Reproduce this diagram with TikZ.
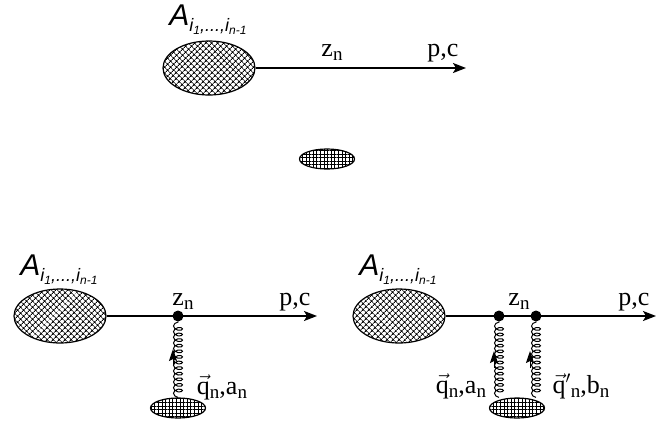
\documentclass[tikz,border=0pt]{standalone}
\usepackage{fontspec}
\setmainfont{Liberation Serif}
\newfontfamily\blobfont{Liberation Sans}
\usepackage{tikz}
\usetikzlibrary{arrows.meta,positioning,calc,shapes.geometric,patterns.meta,decorations.pathmorphing}

\newcommand{\low}[1]{\raisebox{-4pt}{\fontsize{19}{19}\selectfont #1}}
\newcommand{\subl}[1]{\raisebox{-3pt}{\fontsize{12}{12}\selectfont #1}}
\newcommand{\Aname}{{\blobfont\itshape\fontsize{30}{30}\selectfont A\raisebox{-6pt}{\fontsize{18}{18}\selectfont i\subl{1},...,i\subl{n-1}}}}
\newcommand{\qvec}{\(\vec{\hbox{q}}\)}

\begin{document}
\begin{tikzpicture}[
    x=1pt, y=-1pt,
    node distance=0pt and 0pt,
    bigblob/.style={draw, ellipse, minimum width=92pt, minimum height=54pt, inner sep=0pt, line width=1.2pt,
                    pattern={Hatch[angle=45,distance=4pt,line width=1pt]}},
    smallblob/.style={draw, ellipse, minimum width=55pt, minimum height=20pt, inner sep=0pt, line width=1.2pt,
                      pattern={Hatch[angle=0,distance=3.6pt,line width=1pt]}},
    vertex/.style={circle, fill=black, minimum size=11pt, inner sep=0pt},
    lbl/.style={font=\fontsize{26}{26}\selectfont, inner sep=0pt},
    fermion/.style={-{Stealth[length=13pt,width=10pt,inset=3pt]}, line width=1.5pt},
    gluon/.style={line width=1pt, decorate, decoration={coil, amplitude=4.5pt, segment length=5.6pt, aspect=0.6}},
    mom/.style={-{Stealth[length=12pt,width=8pt,inset=2pt]}, line width=1pt}
]
\useasboundingbox (0,0) rectangle (672,424);

% top
\node[bigblob] (blobt) at (209,68) {};
\coordinate (endt) at (466,68);
\node[lbl] (at) at (208,20) {\Aname};
\node[lbl] (zt) at (332,53) {z\low{n}};
\node[lbl] (pt) at (443,53) {p,c};
\draw[fermion, line width=2pt] (blobt) -- (endt);

% middle
\node[smallblob] (blobm) at (327,159) {};

% bottom left
\node[bigblob] (blobl) at (60,316) {};
\coordinate (endl) at (317,316);
\node[vertex] (vl) at (178,316) {};
\node[smallblob] (sblobl) at (178,408) {};
\node[lbl] (al) at (59,270) {\Aname};
\node[lbl] (zl) at (183,302) {z\low{n}};
\node[lbl] (pl) at (295,302) {p,c};
\node[lbl] (ql) at (222,387) {\qvec\low{n},a\low{n}};
\draw[fermion] (blobl) -- (endl);
\draw[gluon] (sblobl.north) -- (vl);
\coordinate (mla) at (173,366);
\coordinate (mlb) at (173,349);
\draw[mom] (mla) -- (mlb);

% bottom right
\node[bigblob] (blobr) at (399,316) {};
\coordinate (endr) at (656,316);
\node[vertex] (vra) at (499,316) {};
\node[vertex] (vrb) at (536,316) {};
\node[smallblob] (sblobr) at (517,408) {};
\node[lbl] (ar) at (398,270) {\Aname};
\node[lbl] (zr) at (519,302) {z\low{n}};
\node[lbl] (pr) at (634,302) {p,c};
\node[lbl] (qra) at (461,386) {\qvec\low{n},a\low{n}};
\node[lbl] (qrb) at (581,386) {\qvec\(\mathbf{'}\)\low{n},b\low{n}};
\draw[fermion] (blobr) -- (endr);
\draw[gluon] (vra |- sblobr.north) -- (vra);
\draw[gluon] (vrb |- sblobr.north) -- (vrb);
\coordinate (mra) at (494,368);
\coordinate (mrb) at (494,351);
\coordinate (mrc) at (530,368);
\coordinate (mrd) at (530,351);
\draw[mom] (mra) -- (mrb);
\draw[mom] (mrc) -- (mrd);
\end{tikzpicture}
\end{document}
